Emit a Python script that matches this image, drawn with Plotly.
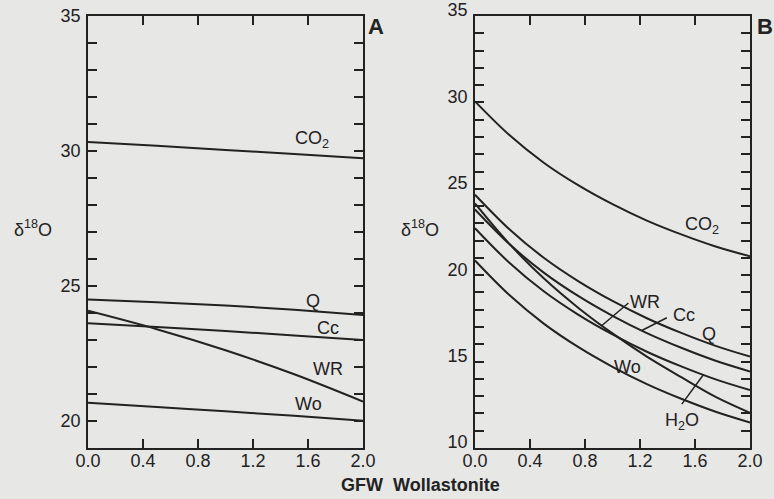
import numpy as np
import plotly.graph_objects as go

# ---------------- data ----------------
# Panel A
x_a = [0.0, 0.5, 1.0, 1.5, 2.0]
a_co2 = [30.33, 30.19, 30.04, 29.89, 29.73]
a_q = [24.50, 24.40, 24.28, 24.12, 23.93]
a_cc = [23.62, 23.48, 23.33, 23.17, 23.00]
a_wr = [24.08, 23.40, 22.62, 21.73, 20.72]
a_wo = [20.68, 20.52, 20.36, 20.19, 20.01]

# Panel B
x_b = [0.0, 0.25, 0.5, 0.75, 1.0, 1.25, 1.5, 1.75, 2.0]
b_co2 = [30.06, 28.11, 26.51, 25.21, 24.11, 23.16, 22.36, 21.66, 21.09]
b_q = [24.66, 22.66, 21.01, 19.66, 18.51, 17.51, 16.66, 15.91, 15.29]
b_cc = [23.80, 21.80, 20.15, 18.80, 17.65, 16.65, 15.80, 15.05, 14.43]
b_wr = [24.15, 21.81, 19.82, 18.12, 16.63, 15.29, 14.10, 12.96, 12.04]
b_h2o = [22.72, 20.72, 19.07, 17.72, 16.57, 15.57, 14.72, 13.97, 13.35]
b_wo = [20.85, 18.85, 17.20, 15.85, 14.70, 13.70, 12.85, 12.10, 11.48]

x_ticks = [0.0, 0.4, 0.8, 1.2, 1.6, 2.0]
x_ticktext = ["0.0", "0.4", "0.8", "1.2", "1.6", "2.0"]
ya_ticks = [20, 25, 30, 35]
yb_ticks = [10, 15, 20, 25, 30, 35]

# ---------------- style ----------------
BG = "#e7e7e5"
INK = "#222222"
FONT = "Liberation Sans, Arial, sans-serif"
LW = 2

fig = go.Figure()

for ys in [a_co2, a_q, a_cc, a_wr, a_wo]:
    fig.add_trace(go.Scatter(x=x_a, y=ys, mode="lines", line=dict(color=INK, width=LW, shape="spline"),
                             xaxis="x", yaxis="y", showlegend=False, hoverinfo="skip"))
for ys in [b_co2, b_q, b_cc, b_wr, b_h2o, b_wo]:
    fig.add_trace(go.Scatter(x=x_b, y=ys, mode="lines", line=dict(color=INK, width=LW, shape="spline"),
                             xaxis="x2", yaxis="y2", showlegend=False, hoverinfo="skip"))

def xax(domain, anchor):
    return dict(domain=domain, anchor=anchor, range=[0, 2], tickmode="array", tickvals=x_ticks,
                ticktext=x_ticktext, ticks="inside", ticklen=9, tickwidth=1.5, tickcolor=INK,
                showline=True, linecolor=INK, linewidth=1.5, mirror="ticks", showgrid=False,
                zeroline=False, automargin=False,
                tickfont=dict(family=FONT, size=18, color=INK), ticklabelstandoff=-4)

def yax(domain, anchor, rng, tv, shift):
    return dict(domain=domain, anchor=anchor, range=rng, tickmode="array", tickvals=tv,
                ticks="inside", ticklen=9, tickwidth=1.5, tickcolor=INK,
                minor=dict(dtick=1, ticks="inside", ticklen=9, tickwidth=1.5, tickcolor=INK, showgrid=False),
                showline=True, linecolor=INK, linewidth=1.5, mirror="ticks", showgrid=False,
                zeroline=False, automargin=False, ticklabelshift=shift,
                tickfont=dict(family=FONT, size=18, color=INK), ticklabelstandoff=2)

ydom = [1 - 448 / 499, 1 - 16 / 499]
fig.update_layout(
    width=774, height=499,
    margin=dict(l=0, r=0, t=0, b=0, autoexpand=False),
    paper_bgcolor=BG, plot_bgcolor=BG,
    xaxis=xax([88 / 774, 363 / 774], "y"),
    yaxis=yax(ydom, "x", [19, 35], ya_ticks, 0),
    xaxis2=xax([475 / 774, 750 / 774], "y2"),
    yaxis2=yax(ydom, "x2", [10, 35], yb_ticks, -6),
)

lab = dict(family=FONT, size=18, color=INK)
ann = []
# panel A curve labels
for t, x, y in [("CO<sub>2</sub>", 1.63, 30.42), ("Q", 1.636, 24.46), ("Cc", 1.745, 23.46),
                ("WR", 1.745, 21.93), ("Wo", 1.60, 20.63)]:
    ann.append(dict(text=t, x=x, y=y, xref="x", yref="y", showarrow=False, font=lab,
                    xanchor="center", yanchor="middle"))
# panel B curve labels
for t, x, y in [("CO<sub>2</sub>", 1.653, 22.85), ("WR", 1.239, 18.47), ("Cc", 1.52, 17.67),
                ("Q", 1.70, 16.6), ("Wo", 1.107, 14.67), ("H<sub>2</sub>O", 1.507, 11.56)]:
    ann.append(dict(text=t, x=x, y=y, xref="x2", yref="y2", showarrow=False, font=lab,
                    xanchor="center", yanchor="middle"))
# panel letters
for t, px in [("<b>A</b>", 376), ("<b>B</b>", 765)]:
    ann.append(dict(text=t, x=px / 774, y=1 - 27 / 499, xref="paper", yref="paper",
                    showarrow=False, xanchor="center", yanchor="middle",
                    font=dict(family=FONT, size=22, color=INK)))
# y titles
for px in [33, 420]:
    ann.append(dict(text="δ<sup>18</sup>O", x=px / 774, y=1 - 228 / 499, xref="paper", yref="paper",
                    showarrow=False, xanchor="center", yanchor="middle", font=lab))
# x title
ann.append(dict(text="<b>GFW  Wollastonite</b>", x=420 / 774, y=1 - 485 / 499, xref="paper", yref="paper",
                showarrow=False, xanchor="center", yanchor="middle",
                font=dict(family=FONT, size=18, color=INK)))
fig.update_layout(annotations=ann)

# leader lines (panel B)
shapes = []
for (x0, y0, xe, series) in [(1.116, 18.39, 0.923, b_wr), (1.395, 17.54, 1.213, b_cc),
                             (1.504, 12.54, 1.661, b_h2o)]:
    ye = float(np.interp(xe, x_b, series))
    shapes.append(dict(type="line", xref="x2", yref="y2", x0=x0, y0=y0, x1=xe, y1=ye,
                       line=dict(color=INK, width=1.5)))
fig.update_layout(shapes=shapes)

fig.write_html("out.html", config={"displayModeBar": False},
               post_script="document.body.style.margin='0px';document.body.style.overflow='hidden';")
